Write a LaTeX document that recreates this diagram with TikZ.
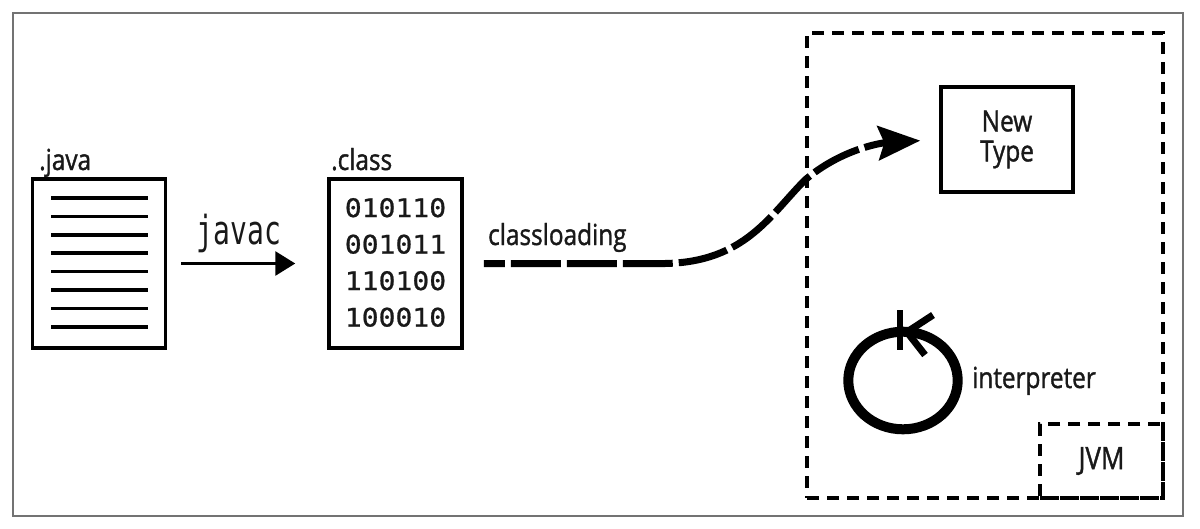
\documentclass[tikz,border=0pt]{standalone}
\usepackage{fontspec}
\setmainfont[FakeStretch=0.84, FakeBold=1.2]{Open Sans}
\newfontfamily\digitfont[FakeStretch=1.1, FakeBold=0.8]{DejaVu Sans Mono}
\newfontfamily\javacfont[FakeStretch=0.7]{DejaVu Sans Mono}
\usetikzlibrary{arrows.meta,shapes.geometric}
\begin{document}
\begin{tikzpicture}[x=1pt,y=-1pt,
  lbl/.style={font=\fontsize{29}{30}\selectfont, inner sep=0pt, text=black!90},
  filebox/.style={draw, line width=3.5pt, minimum width=133pt, minimum height=169pt, inner sep=0pt},
  srcline/.style={line width=3.5pt},
  digits/.style={font=\digitfont\fontsize{25.5}{30}\selectfont, inner sep=0pt, text=black!90},
  javaclbl/.style={font=\javacfont\fontsize{40}{42}\selectfont, inner sep=0pt, text=black!90},
  solidarrow/.style={line width=3pt, -{Triangle[length=20pt,width=24pt]}},
  cload/.style={line width=7pt, dash pattern=on 50pt off 6pt, dash phase=29pt,
    -{Stealth[length=42pt,width=34pt,inset=6pt]}},
  typebox/.style={draw, line width=3.5pt, minimum width=132pt, minimum height=105pt, inner sep=0pt, align=center,
    font=\fontsize{29}{30}\selectfont, text=black!90},
  jvmbox/.style={draw, line width=3.5pt, dash pattern=on 12pt off 8pt, inner sep=0pt},
  loopnode/.style={draw, ellipse, line width=10pt, minimum width=109.4pt, minimum height=97.6pt, inner sep=0pt}
]
\useasboundingbox (0,0) rectangle (1200,528);
\fill[white] (0,0) rectangle (1200,528);
\draw[black!55, line width=1.3pt] (13,13) rectangle (1183,516);

% .java file
\node[filebox] (java) at (99,263.5) {};
\foreach \i in {0,...,7}{
  \draw[srcline] (51,198+18.4*\i) -- (148,198+18.4*\i);
}
\node[lbl, anchor=base west] (javalbl) at (39,170) {.java};

% .class file
\node[filebox] (class) at (395.5,263.5) {};
\node[lbl, anchor=base west] (classlbl) at (331,170) {.class};
\node[digits, anchor=base] (d1) at (395.5,217) {010110};
\node[digits, anchor=base] (d2) at (395.5,253.5) {001011};
\node[digits, anchor=base] (d3) at (395.5,290) {110100};
\node[digits, anchor=base] (d4) at (395.5,326.5) {100010};

% javac arrow
\draw[solidarrow, shorten <=14pt, shorten >=32pt] (java) -- (class);
\node[javaclbl, anchor=base] (javac) at (239,244) {javac};

% JVM
\node[jvmbox, minimum width=356pt, minimum height=465pt] (jvm) at (985,265.5) {};
\node[jvmbox, minimum width=123pt, minimum height=74pt, font=\fontsize{31}{32}\selectfont, text=black!90] (jvmlbl) at (1101.5,461) {JVM};

% New Type
\node[typebox] (newtype) at (1007,139.5) {New\\Type};

% classloading
\draw[cload, shorten <=20pt, shorten >=19pt] (class.east) -- (665,263.5)
  .. controls (745,262) and (770,215) .. (805,180)
  .. controls (840,150) and (880,143) .. (newtype.west);
\node[lbl, anchor=base west] (cltext) at (488,245) {classloading};

% interpreter
\node[loopnode] (interp) at (903,380.5) {};
\draw[line width=6.5pt] (900,310) -- (900,350);
\draw[line width=7pt, miter limit=10] (933,315) -- (907,332) -- (925,355);
\node[lbl, anchor=base west] (interplbl) at (972,388) {interpreter};
\end{tikzpicture}
\end{document}
